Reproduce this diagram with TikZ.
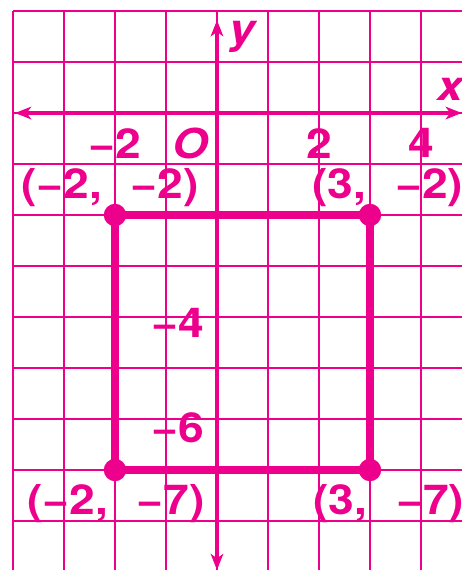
\documentclass[tikz,border=0pt]{standalone}
\usepackage{fontspec}
\usepackage{tikz}
\usetikzlibrary{arrows.meta}
\newfontfamily\lblfont{TeX Gyre Heros}[FakeStretch=1.12]
\definecolor{grpink}{RGB}{236,0,140}
\tikzset{
  gridline/.style={grpink, line width=1.2pt},
  axis/.style={grpink, line width=2.6pt, {Stealth[length=9pt,width=7pt,inset=2.5pt]}-{Stealth[length=9pt,width=7pt,inset=2.5pt]}},
  side/.style={grpink, line width=4.3pt, line join=miter},
  dot/.style={circle, fill=grpink, inner sep=0pt, minimum size=0.44cm},
  lbl/.style={text=grpink, inner sep=0pt, font=\lblfont\bfseries\fontsize{23}{25}\selectfont},
  ilbl/.style={lbl, font=\lblfont\bfseries\itshape\fontsize{23}{25}\selectfont}
}
\newcommand{\cgap}{\hspace{0.7em}}
\begin{document}
\begin{tikzpicture}
\useasboundingbox[fill=white] (-4.255,-8.961) rectangle (4.804,2.216);
\draw[gridline, step=1] (-4,-8.961) grid (4.804,2);
\coordinate (xl) at (-3.96,0);
\coordinate (xr) at (4.8,0);
\coordinate (yt) at (0,1.82);
\coordinate (yb) at (0,-8.961);
\draw[axis] (xl)--(xr);
\draw[axis] (yb)--(yt);
\node[ilbl] (xlab) at (4.57,0.47) {x};
\node[ilbl] (ylab) at (0.5,1.5) {y};
\node[ilbl] (olab) at (-0.53,-0.59) {O};
\node[lbl] (xm2) at (-2,-0.59) {−2};
\node[lbl] (x2) at (2,-0.59) {2};
\node[lbl] (x4) at (4,-0.59) {4};
\node[lbl] (ym4) at (-0.76,-4.12) {−4};
\node[lbl] (ym6) at (-0.76,-6.18) {−6};
\node[dot] (p1) at (-2,-2) {};
\node[dot] (p2) at (3,-2) {};
\node[dot] (p3) at (3,-7) {};
\node[dot] (p4) at (-2,-7) {};
\draw[side] (p1.center)--(p2.center)--(p3.center)--(p4.center)--cycle;
\node[lbl] (c1) at (-2.1,-1.47) {(−2,\cgap−2)};
\node[lbl] (c2) at (3.35,-1.47) {(3,\cgap−2)};
\node[lbl] (c3) at (-1.98,-7.65) {(−2,\cgap−7)};
\node[lbl] (c4) at (3.37,-7.65) {(3,\cgap−7)};
\end{tikzpicture}
\end{document}
